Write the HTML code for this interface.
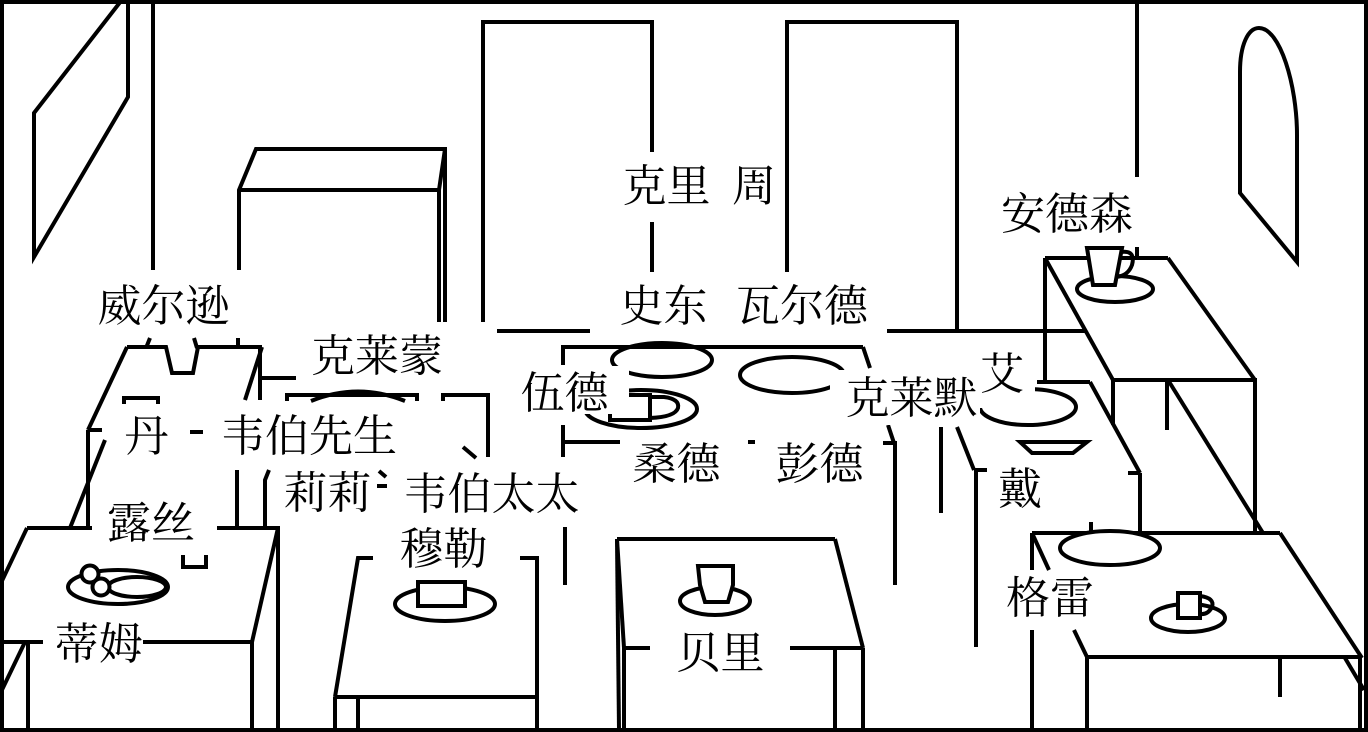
<!DOCTYPE html>
<html><head><meta charset="utf-8">
<style>
html,body{margin:0;padding:0;background:#fff;}
svg{display:block;}
text{font-family:"Liberation Serif","Noto Serif CJK SC",serif;font-size:44px;fill:#000;}
</style></head><body>
<svg width="1368" height="732" viewBox="0 0 1368 732" xmlns="http://www.w3.org/2000/svg">
<rect x="0" y="0" width="1368" height="732" fill="#fff"/>
<g fill="none" stroke="#000" stroke-width="4">
<!-- picture -->
<polygon points="34,113 128,-8 128,97 34,257"/>
<line x1="153" y1="0" x2="153" y2="270"/>
<!-- cabinet -->
<polyline points="239,270 239,190 256,149 445,149 445,322"/>
<line x1="239" y1="190" x2="440" y2="190"/>
<polyline points="445,149 439,190 439,322"/>
<!-- doors -->
<polyline points="483,322 483,22 652,22 652,152"/>
<line x1="652" y1="222" x2="652" y2="272"/>
<polyline points="787,272 787,22 957,22 957,332"/>
<line x1="497" y1="331" x2="590" y2="331"/>
<line x1="887" y1="331" x2="1087" y2="331"/>
<!-- right wall -->
<line x1="1137" y1="0" x2="1137" y2="177"/>
<line x1="1137" y1="247" x2="1137" y2="258"/>
<path d="M1240,193 V72 C1240,45 1248,28 1259,28 C1280,28 1297,85 1297,135 V262 Z"/>

<!-- Anderson table -->
<line x1="1045" y1="258" x2="1168" y2="258"/>
<line x1="1045" y1="258" x2="1045" y2="380"/>
<line x1="1045" y1="258" x2="1113" y2="380"/>
<line x1="1168" y1="258" x2="1255" y2="380"/>
<line x1="1113" y1="380" x2="1257" y2="380"/>
<line x1="1113" y1="380" x2="1113" y2="425"/>
<line x1="1167" y1="380" x2="1167" y2="430"/>
<line x1="1255" y1="380" x2="1255" y2="533"/>
<line x1="1168" y1="380" x2="1263" y2="533"/>
<ellipse cx="1115" cy="289" rx="38" ry="13"/>
<polygon points="1087,248 1122,248 1115,285 1093,285" fill="#fff"/>
<path d="M1121,252 Q1136,250 1132,265 Q1128,276 1116,277"/>

<!-- Dai table -->
<line x1="1037" y1="382" x2="1090" y2="382"/>
<line x1="1128" y1="473" x2="1140" y2="473"/>
<line x1="1090" y1="382" x2="1140" y2="473"/>
<line x1="1140" y1="473" x2="1140" y2="533"/>
<line x1="957" y1="427" x2="974" y2="470"/>
<polyline points="987,470 976,470 976,647"/>
<line x1="941" y1="427" x2="941" y2="513"/>
<ellipse cx="1028" cy="407" rx="48" ry="18"/>
<polygon points="1020,442 1087,442 1073,453 1032,453" fill="#fff"/>

<!-- Gray table -->
<line x1="1091" y1="522" x2="1091" y2="533"/>
<line x1="1032" y1="533" x2="1280" y2="533"/>
<line x1="1280" y1="533" x2="1362" y2="658"/>
<line x1="1032" y1="533" x2="1049" y2="570"/>
<line x1="1074" y1="630" x2="1087" y2="657"/>
<line x1="1087" y1="657" x2="1362" y2="657"/>
<line x1="1087" y1="657" x2="1087" y2="730"/>
<line x1="1032" y1="533" x2="1032" y2="570"/>
<line x1="1032" y1="630" x2="1032" y2="730"/>
<line x1="1280" y1="657" x2="1280" y2="697"/>
<line x1="1360" y1="657" x2="1360" y2="730"/>
<line x1="1345" y1="658" x2="1364" y2="690"/>
<ellipse cx="1110" cy="548" rx="50" ry="17" fill="#fff"/>
<ellipse cx="1188" cy="618" rx="37" ry="14"/>
<rect x="1178" y="593" width="22" height="25" fill="#fff"/>
<path d="M1200,596 Q1215,598 1212,607 Q1208,615 1200,614"/>

<!-- Wade table -->
<line x1="563" y1="347" x2="863" y2="347"/>
<line x1="563" y1="345" x2="563" y2="365"/>
<line x1="563" y1="425" x2="563" y2="457"/>
<line x1="563" y1="442" x2="620" y2="442"/>
<line x1="748" y1="442" x2="755" y2="442"/>
<line x1="883" y1="443" x2="897" y2="443"/>
<line x1="895" y1="441" x2="895" y2="585"/>
<line x1="863" y1="347" x2="870" y2="368"/>
<line x1="888" y1="425" x2="894" y2="443"/>
<line x1="565" y1="527" x2="565" y2="585"/>
<ellipse cx="662" cy="360" rx="50" ry="17"/>
<ellipse cx="792" cy="375" rx="52" ry="18"/>
<ellipse cx="641" cy="409" rx="56" ry="19"/>
<rect x="610" y="395" width="40" height="25" fill="#fff"/>
<path d="M650,397 L664,397 Q680,399 678,408 Q675,417 650,418"/>

<!-- Berry table -->
<line x1="617" y1="539" x2="835" y2="539"/>
<line x1="835" y1="539" x2="863" y2="648"/>
<line x1="617" y1="539" x2="619" y2="730"/>
<line x1="617" y1="539" x2="624" y2="648"/>
<line x1="624" y1="648" x2="624" y2="730"/>
<line x1="624" y1="648" x2="650" y2="648"/>
<line x1="790" y1="648" x2="863" y2="648"/>
<line x1="835" y1="648" x2="835" y2="730"/>
<line x1="863" y1="648" x2="863" y2="730"/>
<ellipse cx="715" cy="601" rx="35" ry="14"/>
<polygon points="698,566 733,566 733,585 728,602 705,602 700,585" fill="#fff"/>

<!-- Muller table -->
<polyline points="373,558 358,558 335,697"/>
<line x1="520" y1="558" x2="537" y2="558"/>
<line x1="537" y1="556" x2="537" y2="730"/>
<line x1="335" y1="697" x2="537" y2="697"/>
<line x1="335" y1="697" x2="335" y2="730"/>
<line x1="358" y1="697" x2="358" y2="730"/>
<ellipse cx="445" cy="604" rx="50" ry="17"/>
<rect x="418" y="582" width="47" height="24" fill="#fff"/>

<!-- Clermont table -->
<polyline points="287,401 287,395 417,395 417,401"/>
<path d="M311,401 Q358,382 405,401"/>
<polyline points="443,401 443,395 488,395 488,457"/>
<line x1="463" y1="447" x2="476" y2="458"/>
<line x1="379" y1="471" x2="386" y2="477"/>
<line x1="377" y1="486" x2="387" y2="486"/>

<!-- Dan table -->
<line x1="146" y1="348" x2="150" y2="338"/>
<line x1="194" y1="338" x2="197" y2="348"/>
<line x1="238" y1="338" x2="238" y2="348"/>
<polyline points="127,347 166,347 172,373 193,373 198,347 262,347"/>
<line x1="127" y1="347" x2="88" y2="430"/>
<line x1="88" y1="430" x2="102" y2="430"/>
<line x1="88" y1="430" x2="88" y2="528"/>
<line x1="105" y1="440" x2="70" y2="528"/>
<line x1="262" y1="347" x2="245" y2="400"/>
<line x1="260" y1="347" x2="260" y2="400"/>
<line x1="260" y1="378" x2="296" y2="378"/>
<polyline points="124,404 124,398 158,398 158,404"/>
<line x1="190" y1="432" x2="203" y2="432"/>
<line x1="237" y1="470" x2="237" y2="528"/>
<path d="M269,470 L265,480 L265,528"/>

<!-- Ruth table -->
<line x1="27" y1="528" x2="92" y2="528"/>
<line x1="217" y1="528" x2="278" y2="528"/>
<line x1="27" y1="528" x2="0" y2="585"/>
<line x1="278" y1="528" x2="252" y2="642"/>
<line x1="0" y1="642" x2="43" y2="642"/>
<line x1="143" y1="642" x2="252" y2="642"/>
<line x1="25" y1="642" x2="0" y2="694"/>
<line x1="28" y1="642" x2="28" y2="730"/>
<line x1="252" y1="642" x2="252" y2="730"/>
<line x1="278" y1="526" x2="278" y2="730"/>
<ellipse cx="118" cy="587" rx="50" ry="17"/>
<ellipse cx="137" cy="587" rx="29" ry="10"/>
<circle cx="90" cy="574" r="8.5" fill="#fff"/>
<circle cx="101" cy="587" r="8.5" fill="#fff"/>
<polyline points="183,555 183,567 206,567 206,555"/>
</g>

<!-- label backgrounds for clipping -->
<g fill="#fff" stroke="none">
<rect x="512" y="366" width="117" height="48"/>
<rect x="830" y="370" width="150" height="55"/>
<rect x="975" y="345" width="60" height="63"/>
</g>

<g text-anchor="middle">
<text x="163.5" y="321">威尔逊</text>
<text x="666.5" y="201">克里</text>
<text x="754" y="201">周</text>
<text x="663.5" y="321">史东</text>
<text x="802" y="321">瓦尔德</text>
<text x="1067" y="229">安德森</text>
<text x="377" y="371">克莱蒙</text>
<text x="146.5" y="451">丹</text>
<text x="309" y="451">韦伯先生</text>
<text x="327.5" y="508">莉莉</text>
<text x="491.5" y="509">韦伯太太</text>
<text x="443.5" y="564">穆勒</text>
<text x="151" y="538">露丝</text>
<text x="99" y="659">蒂姆</text>
<text x="564.5" y="408">伍德</text>
<text x="676.5" y="479">桑德</text>
<text x="819.5" y="479">彭德</text>
<text x="911.5" y="413">克莱默</text>
<text x="1002" y="389">艾</text>
<text x="1020" y="504">戴</text>
<text x="1050" y="613">格雷</text>
<text x="720.5" y="668">贝里</text>
</g>

<rect x="2" y="2" width="1364" height="728" fill="none" stroke="#000" stroke-width="4"/>
</svg>
</body></html>
